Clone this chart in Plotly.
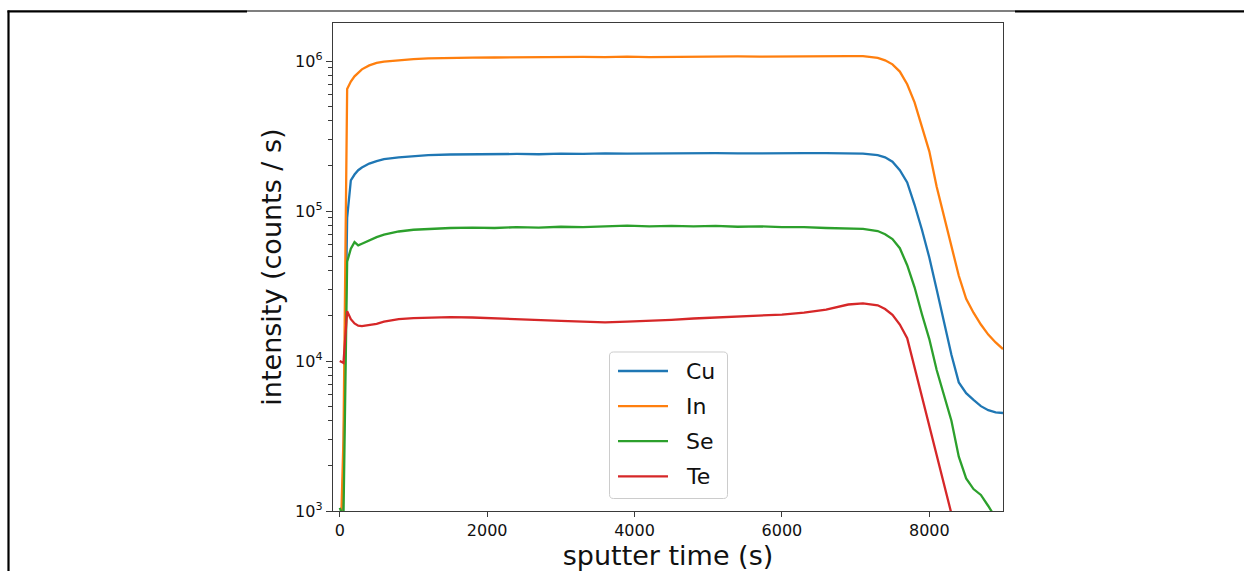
import plotly.graph_objects as go

# sputter time grid (s)
time_s = [0, 50, 100, 150, 200, 250, 300, 400, 500, 600, 800, 1000, 1200, 1500,
          1800, 2100, 2400, 2700, 3000, 3300, 3600, 3900, 4200, 4500, 4800, 5100,
          5400, 5700, 6000, 6300, 6600, 6900, 7100, 7300, 7400, 7500, 7600, 7700,
          7800, 7900, 8000, 8100, 8200, 8300, 8400, 8500, 8600, 8700, 8800, 8900, 9000]

# intensities (counts / s)
cu = [300, 2000, 9.0e4, 1.6e5, 1.75e5, 1.87e5, 1.95e5, 2.07e5, 2.15e5, 2.22e5, 2.28e5,
      2.33e5, 2.36e5, 2.38e5, 2.39e5, 2.38e5, 2.40e5, 2.39e5, 2.41e5, 2.40e5, 2.42e5,
      2.41e5, 2.42e5, 2.43e5, 2.42e5, 2.43e5, 2.42e5, 2.43e5, 2.42e5, 2.43e5, 2.43e5,
      2.42e5, 2.41e5, 2.36e5, 2.28e5, 2.13e5, 1.87e5, 1.55e5, 1.10e5, 7.5e4, 4.9e4,
      3.0e4, 1.85e4, 1.1e4, 7.2e3, 6.1e3, 5.5e3, 5.0e3, 4.7e3, 4.55e3, 4.5e3]

indium = [400, 3000, 6.5e5, 7.3e5, 7.9e5, 8.4e5, 8.8e5, 9.35e5, 9.7e5, 9.9e5, 1.015e6,
          1.03e6, 1.04e6, 1.05e6, 1.052e6, 1.055e6, 1.06e6, 1.058e6, 1.062e6, 1.065e6,
          1.06e6, 1.068e6, 1.062e6, 1.066e6, 1.07e6, 1.068e6, 1.072e6, 1.07e6, 1.074e6,
          1.072e6, 1.076e6, 1.078e6, 1.076e6, 1.05e6, 1.01e6, 9.5e5, 8.5e5, 7.0e5, 5.3e5,
          3.7e5, 2.5e5, 1.45e5, 9.3e4, 5.8e4, 3.7e4, 2.6e4, 2.1e4, 1.75e4, 1.5e4, 1.33e4,
          1.2e4]

se = [1050, 900, 4.6e4, 5.6e4, 6.2e4, 5.9e4, 6.05e4, 6.4e4, 6.7e4, 6.95e4, 7.3e4, 7.5e4,
      7.6e4, 7.7e4, 7.75e4, 7.7e4, 7.8e4, 7.75e4, 7.85e4, 7.8e4, 7.9e4, 8.0e4, 7.9e4,
      7.95e4, 7.9e4, 7.95e4, 7.85e4, 7.9e4, 7.8e4, 7.8e4, 7.7e4, 7.65e4, 7.6e4, 7.35e4,
      7.0e4, 6.5e4, 5.65e4, 4.35e4, 3.1e4, 2.05e4, 1.4e4, 8.7e3, 5.8e3, 4.0e3, 2.3e3,
      1.65e3, 1.4e3, 1.28e3, 1.08e3, 900, 800]

te = [1.0e4, 9.7e3, 2.15e4, 1.9e4, 1.78e4, 1.72e4, 1.71e4, 1.73e4, 1.77e4, 1.83e4, 1.9e4,
      1.93e4, 1.95e4, 1.96e4, 1.95e4, 1.93e4, 1.9e4, 1.87e4, 1.85e4, 1.83e4, 1.81e4,
      1.83e4, 1.85e4, 1.88e4, 1.92e4, 1.95e4, 1.98e4, 2.01e4, 2.04e4, 2.1e4, 2.2e4,
      2.38e4, 2.42e4, 2.35e4, 2.22e4, 2.03e4, 1.75e4, 1.42e4, 9.0e3, 5.6e3, 3.5e3,
      2.3e3, 1.4e3, 900, 580, 380, 250, 170, 120, 90, 70]

names = ["Cu", "In", "Se", "Te"]
series = [cu, indium, se, te]
colors = ["#1f77b4", "#ff7f0e", "#2ca02c", "#d62728"]

# y-axis decades and their labels
y_decades = [1e3, 1e4, 1e5, 1e6]
y_labels = ["10<sup>3</sup>", "10<sup>4</sup>", "10<sup>5</sup>", "10<sup>6</sup>"]
# log minor ticks at 2..9 x 10^n
minor_vals = [d * 10 ** e for e in range(3, 7) for d in range(2, 10)]

FONT = "DejaVu Sans"
AX = "#3a3a3a"

# plot-area geometry in pixels
L, T, W, H = 333, 23, 670, 488
FIG_W, FIG_H = 1244, 571
Y_RANGE = [3, 6.2533]


def px(x):
    return (x - L) / W


def py(y):
    return (T + H - y) / H


fig = go.Figure()
for name, vals, col in zip(names, series, colors):
    fig.add_trace(go.Scatter(x=time_s, y=vals, mode="lines", name=name,
                             line=dict(color=col, width=2.3), showlegend=False))

axis_common = dict(showline=True, linecolor=AX, linewidth=1.4, mirror=True,
                   showgrid=False, zeroline=False, ticks="outside", tickcolor=AX,
                   tickwidth=1.2, tickfont=dict(family=FONT, size=16, color="#111"))

fig.update_xaxes(range=[-92, 9000], tick0=0, dtick=2000, tickformat="d", ticklen=5,
                 title=dict(text="sputter time (s)", font=dict(family=FONT, size=27, color="#111"),
                            standoff=6),
                 **axis_common)
fig.update_yaxes(type="log", range=Y_RANGE, tickmode="array", tickvals=y_decades,
                 ticktext=y_labels, ticklen=6,
                 title=dict(text="intensity (counts / s)", font=dict(family=FONT, size=27, color="#111"),
                            standoff=5),
                 **axis_common)

# second log axis carrying the short minor ticks
fig.update_layout(yaxis2=dict(type="log", range=Y_RANGE, overlaying="y", anchor="x", side="left",
                              tickmode="array", tickvals=minor_vals, showticklabels=False,
                              ticks="outside", ticklen=4, tickwidth=1.2, tickcolor=AX,
                              showgrid=False, zeroline=False, showline=False))
fig.add_trace(go.Scatter(x=[None], y=[None], yaxis="y2", showlegend=False, hoverinfo="skip"))

shapes = []


def hline(x0, x1, y, w):
    shapes.append(dict(type="line", xref="paper", yref="paper", x0=px(x0), x1=px(x1),
                       y0=py(y), y1=py(y), line=dict(color="black", width=w), layer="above"))


# page frame around the figure
shapes.append(dict(type="line", xref="paper", yref="paper", x0=px(8.5), x1=px(8.5),
                   y0=py(10.5), y1=py(FIG_H + 5), line=dict(color="black", width=2.2),
                   layer="above"))
hline(7.5, 247, 11.3, 2.2)
hline(247, 1015, 11, 1.2)
hline(1015, FIG_W + 5, 11.3, 2.2)


# legend box with rounded corners
def rounded_rect(x0, y0, x1, y1, r):
    pts = [("M", x0 + r, y0), ("L", x1 - r, y0), ("Q", x1, y0, x1, y0 + r),
           ("L", x1, y1 - r), ("Q", x1, y1, x1 - r, y1), ("L", x0 + r, y1),
           ("Q", x0, y1, x0, y1 - r), ("L", x0, y0 + r), ("Q", x0, y0, x0 + r, y0)]
    parts = []
    for p in pts:
        cmd, coords = p[0], p[1:]
        xy = []
        for i in range(0, len(coords), 2):
            xy.append(f"{px(coords[i]):.5f},{py(coords[i + 1]):.5f}")
        parts.append(cmd + " " + " ".join(xy))
    return " ".join(parts) + " Z"


shapes.append(dict(type="path", xref="paper", yref="paper",
                   path=rounded_rect(609.5, 352, 727.5, 498.5, 4),
                   fillcolor="rgba(255,255,255,0.8)", line=dict(color="#cccccc", width=1),
                   layer="above"))

annotations = []
row0, row_step = 371, 35.1
for i, (name, col) in enumerate(zip(names, colors)):
    yy = row0 + i * row_step
    shapes.append(dict(type="line", xref="paper", yref="paper", x0=px(618), x1=px(668),
                       y0=py(yy), y1=py(yy), line=dict(color=col, width=2.3), layer="above"))
    annotations.append(dict(xref="paper", yref="paper", x=px(684), y=py(yy), text=name,
                            showarrow=False, xanchor="left", yanchor="middle",
                            font=dict(family=FONT, size=22, color="#111")))

fig.update_layout(width=FIG_W, height=FIG_H, autosize=False,
                  margin=dict(l=L, r=FIG_W - L - W, t=T, b=FIG_H - T - H, autoexpand=False),
                  paper_bgcolor="white", plot_bgcolor="white",
                  font=dict(family=FONT, color="#111"),
                  shapes=shapes, annotations=annotations)

fig.write_html("out.html")
